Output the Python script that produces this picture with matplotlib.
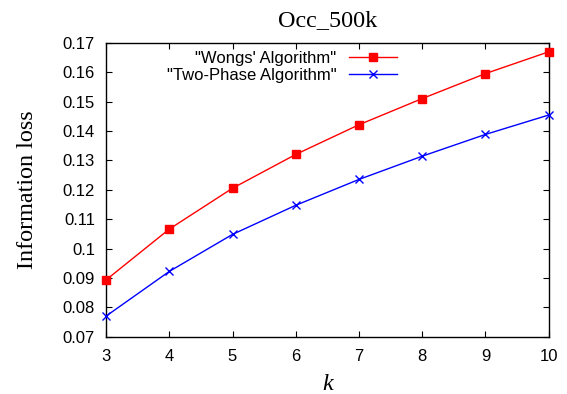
import matplotlib
matplotlib.use("Agg")
import matplotlib.pyplot as plt

k_values = [3, 4, 5, 6, 7, 8, 9, 10]
wongs_loss = [0.0893, 0.1066, 0.1205, 0.1320, 0.1421, 0.1510, 0.1595, 0.1669]
two_phase_loss = [0.0770, 0.0922, 0.1048, 0.1147, 0.1235, 0.1314, 0.1388, 0.1454]
y_ticks = [0.07, 0.08, 0.09, 0.1, 0.11, 0.12, 0.13, 0.14, 0.15, 0.16, 0.17]
y_tick_labels = ["0.07", "0.08", "0.09", "0.1", "0.11", "0.12", "0.13", "0.14", "0.15", "0.16", "0.17"]

plt.rcParams['font.family'] = ['Liberation Sans', 'DejaVu Sans']

fig = plt.figure(figsize=(5.67, 3.94), dpi=100)
ax = fig.add_axes([0.187, 0.1454, 0.9677 - 0.187, 0.8916 - 0.1454])

ax.plot(k_values, wongs_loss, color='#ff0000', lw=1.0, marker='s', markersize=5.5,
        label='"Wongs\' Algorithm"', clip_on=False, zorder=3)
ax.plot(k_values, two_phase_loss, color='#0000ff', lw=1.0, marker='x', markersize=6,
        markeredgewidth=1.0, label='"Two-Phase Algorithm"', clip_on=False, zorder=3)

ax.set_xlim(3, 10)
ax.set_ylim(0.07, 0.17)
ax.set_xticks(k_values)
ax.set_yticks(y_ticks)
ax.set_yticklabels(y_tick_labels)
ax.tick_params(direction='in', length=4.5, width=0.8, top=True, right=True,
               labelsize=12, pad=8, colors='black')
ax.tick_params(axis='x', pad=9)
for s in ax.spines.values():
    s.set_linewidth(1.0)

ax.set_title('Occ_500k', fontsize=17.4, family='Liberation Serif', pad=12)
ax.set_ylabel('Information loss', fontsize=17.4, family='Liberation Serif', labelpad=18)
ax.set_xlabel('k', fontsize=17.4, family='Liberation Serif', style='italic', labelpad=7)

leg = ax.legend(loc='upper right', bbox_to_anchor=((397 - 106) / (548.7 - 106), 1 - (50.5 - 42.7) / 294),
                borderaxespad=0, borderpad=0, frameon=False, markerfirst=False,
                fontsize=12, handlelength=2.9, handletextpad=0.75, labelspacing=0.15,
                numpoints=1)
for col in leg._legend_handle_box.get_children():
    col.align = "right"

fig.savefig('out.png', dpi=100)
